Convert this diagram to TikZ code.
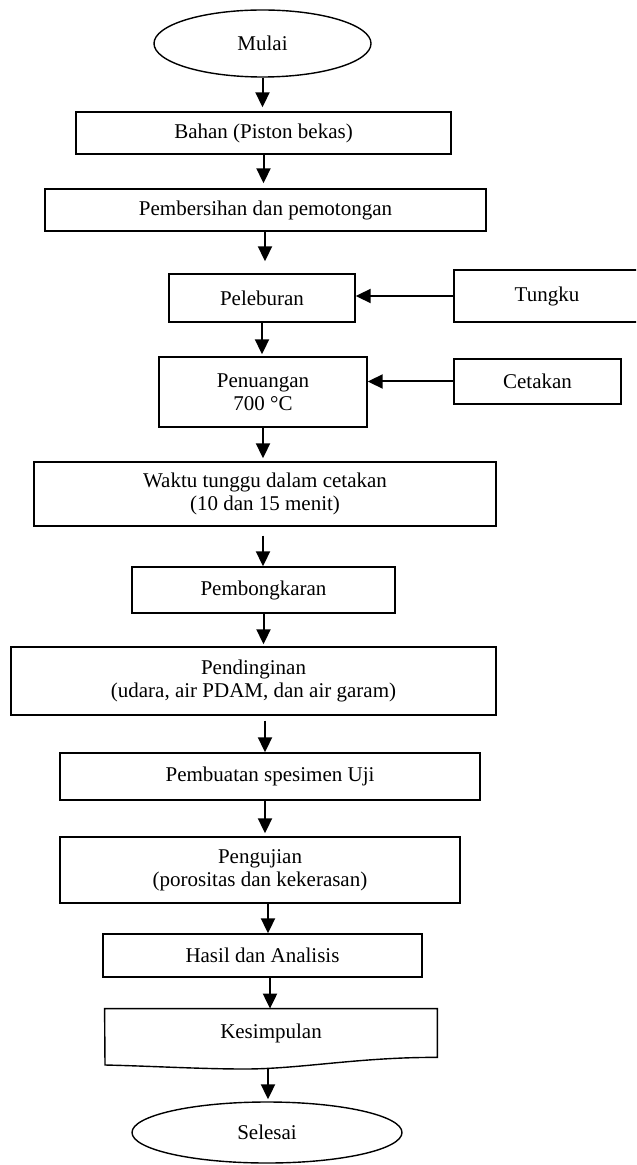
\documentclass[tikz,border=0pt]{standalone}
\usepackage{fontspec}
\setmainfont{Liberation Serif}
\usetikzlibrary{arrows.meta,shapes.geometric,calc}
\begin{document}
\begin{tikzpicture}[x=0.5pt,y=-0.5pt,
  font=\fontsize{10.5}{11.5}\selectfont,
  box/.style={draw,line width=0.7pt,inner sep=0pt,align=center},
  oval/.style={ellipse,draw,line width=0.7pt,inner sep=0pt},
  arr/.style={line width=1pt,-{Triangle[length=7.5pt,width=7pt]}}]
\useasboundingbox (0,0) rectangle (636,1165);
\clip (0,0) rectangle (636,1165);
\node[oval,minimum width=108.5pt,minimum height=33.5pt] (mulai) at (262.5,43.5) {Mulai};
\node[box,minimum width=187.5pt,minimum height=21pt] (bahan) at (263.5,133) {Bahan (Piston bekas)};
\node[box,minimum width=220.5pt,minimum height=21pt] (bersih) at (265.5,210) {Pembersihan dan pemotongan};
\node[box,minimum width=93pt,minimum height=24pt] (lebur) at (262,298) {Peleburan};
\node[box,minimum width=93pt,minimum height=26pt] (tungku) at (547,296) {Tungku};
\node[box,minimum width=104pt,minimum height=35pt] (tuang) at (263,392) {Penuangan\\700 °C};
\node[box,minimum width=83.5pt,minimum height=22.5pt] (cetak) at (537.5,381.5) {Cetakan};
\node[box,minimum width=231pt,minimum height=32pt] (tunggu) at (265,494) {Waktu tunggu dalam cetakan\\(10 dan 15 menit)};
\node[box,minimum width=131.5pt,minimum height=23pt] (bongkar) at (263.5,590) {Pembongkaran};
\node[box,minimum width=242.5pt,minimum height=34pt] (dingin) at (253.5,681) {Pendinginan\\(udara, air PDAM, dan air garam)};
\node[box,minimum width=210pt,minimum height=23.5pt] (buat) at (270,776.5) {Pembuatan spesimen Uji};
\node[box,minimum width=200pt,minimum height=33pt] (uji) at (260,870) {Pengujian\\(porositas dan kekerasan)};
\node[box,minimum width=159.5pt,minimum height=21.5pt] (hasil) at (262.5,955.5) {Hasil dan Analisis};
\node[inner sep=0pt,minimum width=166pt,minimum height=24pt] (kes) at (271,1033) {Kesimpulan};
\draw[line width=0.7pt] (kes.south east) -- (kes.north east) -- (kes.north west) -- (105,1065)
  .. controls (150,1066) and (200,1069) .. (245,1069)
  .. controls (300,1069) and (360,1057) .. (kes.south east) -- cycle;
\coordinate (kesb) at (268,1069);
\node[oval,minimum width=135pt,minimum height=30.5pt] (selesai) at (267,1132.5) {Selesai};
% arrows
\coordinate (x3) at (265,0);
\coordinate (x6) at (263,0);
\coordinate (x8) at (265,0);
\coordinate (x9) at (265,0);
\coordinate (x10) at (268,0);
\coordinate (x11) at (270,0);
\draw[arr,shorten >=2pt] (mulai.south) -- (mulai.south |- bahan.north);
\draw[arr,shorten >=2.5pt] (bahan.south) -- (bahan.south |- bersih.north);
\draw[arr,shorten >=6pt] (x3 |- bersih.south) -- (x3 |- lebur.north);
\draw[arr,shorten >=1pt] (lebur.south) -- (lebur.south |- tuang.north);
\draw[arr,shorten >=1.5pt] (tuang.south) -- (tuang.south |- tunggu.north);
\draw[arr,shorten <=4.5pt] (x6 |- tunggu.south) -- (x6 |- bongkar.north);
\draw[arr,shorten >=1pt] (bongkar.south) -- (bongkar.south |- dingin.north);
\draw[arr,shorten <=2.5pt] (x8 |- dingin.south) -- (x8 |- buat.north);
\draw[arr,shorten >=1.5pt] (x9 |- buat.south) -- (x9 |- uji.north);
\draw[arr] (x10 |- uji.south) -- (x10 |- hasil.north);
\draw[arr] (x11 |- hasil.south) -- (x11 |- kes.north);
\draw[arr,shorten >=1pt] (kesb) -- (kesb |- selesai.north);
\draw[arr] (tungku.west) -- (tungku.west -| lebur.east);
\draw[arr] (cetak.west) -- (cetak.west -| tuang.east);
\end{tikzpicture}
\end{document}
